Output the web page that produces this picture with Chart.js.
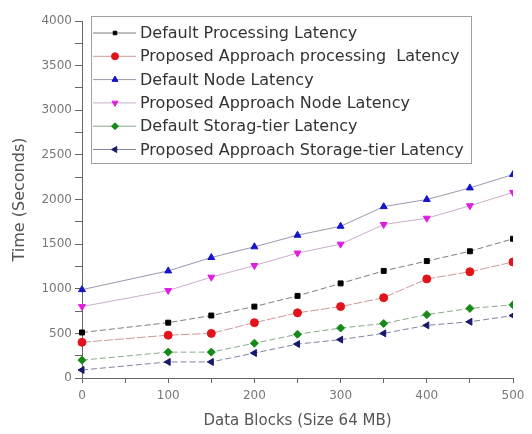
<!DOCTYPE html>
<html>
<head>
<meta charset="utf-8">
<script src="https://cdn.jsdelivr.net/npm/chart.js@4"></script>
<style>
  html, body { margin: 0; padding: 0; background: #fff; }
  #wrap { width: 532px; height: 434px; }
</style>
</head>
<body>
<div id="wrap"><canvas id="latency"></canvas></div>
<script>
// data blocks on the x axis
const blocks = [0, 100, 150, 200, 250, 300, 350, 400, 450, 500];

const defaultProcessing  = [510, 620, 700, 800, 920, 1060, 1200, 1310, 1420, 1560];
const proposedProcessing = [400, 480, 500, 620, 730, 800, 900, 1110, 1190, 1300];
const defaultNode        = [990, 1200, 1350, 1470, 1600, 1700, 1920, 2000, 2130, 2280];
const proposedNode       = [800, 980, 1130, 1260, 1400, 1500, 1720, 1790, 1930, 2080];
const defaultStorage     = [200, 290, 290, 390, 490, 560, 610, 710, 780, 820];
const proposedStorage    = [90, 180, 180, 280, 380, 430, 500, 590, 630, 700];

const seriesLabels = [
  "Default Processing Latency",
  "Proposed Approach processing  Latency",
  "Default Node Latency",
  "Proposed Approach Node Latency",
  "Default Storag-tier Latency",
  "Proposed Approach Storage-tier Latency"
];

const FONT = "'DejaVu Sans', Verdana, sans-serif";

function pairs(values){
  return values.map(function(v, i){ return {x: blocks[i], y: v}; });
}

function makeSet(label, values, color, lineColor, style, rot, dash){
  return {
    label: label,
    data: pairs(values),
    borderColor: lineColor,
    borderDash: dash || [],
    backgroundColor: color,
    pointBorderColor: color,
    pointBackgroundColor: color,
    pointStyle: style,
    pointRotation: rot || 0,
    pointRadius: style == 'rect' ? 3.5 : 4,
    borderWidth: 1,
    pointBorderWidth: 1,
    tension: 0,
    clip: {left: 6, top: 6, right: 0, bottom: 6}
  };
}

let datasets = [
  makeSet(seriesLabels[0], defaultProcessing, "#000000", "rgba(80,80,80,0.75)", 'rect', 0, [6, 3]),
  makeSet(seriesLabels[1], proposedProcessing, "#e3131b", "rgba(190,120,120,0.75)", 'circle', 0, [9, 2]),
  makeSet(seriesLabels[2], defaultNode, "#1414c8", "rgba(110,110,140,0.7)", 'triangle'),
  makeSet(seriesLabels[3], proposedNode, "#e01ee0", "rgba(180,140,180,0.7)", 'triangle', 180),
  makeSet(seriesLabels[4], defaultStorage, "#168a16", "rgba(100,140,100,0.75)", 'rectRot', 0, [6, 3]),
  makeSet(seriesLabels[5], proposedStorage, "#18186a", "rgba(90,90,130,0.75)", 'triangle', -90, [6, 3])
];

// legend box drawn inside the plot area
const boxLegend = {
  id: 'boxLegend',
  afterDraw: function(chart){
    let ctx = chart.ctx;
    let left = 91, top = 16, right = 471, bottom = 163;
    ctx.save();
    ctx.fillStyle = "#fff";
    ctx.fillRect(left, top, right - left, bottom - top);
    ctx.strokeStyle = "#a0a0a0";
    ctx.lineWidth = 1;
    ctx.strokeRect(left + 0.5, top + 0.5, right - left, bottom - top);
    ctx.font = "16px " + FONT;
    ctx.textBaseline = "middle";
    chart.data.datasets.forEach(function(ds, i){
      let y = 33 + i * 23.3;
      ctx.strokeStyle = ds.borderColor;
      ctx.setLineDash([]);
      ctx.beginPath();
      ctx.moveTo(93, y);
      ctx.lineTo(136, y);
      ctx.stroke();
      ctx.fillStyle = ds.pointBackgroundColor;
      ctx.strokeStyle = ds.pointBorderColor;
      Chart.helpers.drawPoint(ctx, {
        pointStyle: ds.pointStyle,
        rotation: ds.pointRotation,
        radius: ds.pointStyle == 'rect' ? 2.5 : 3.5,
        borderWidth: 1
      }, 115, y);
      ctx.fillStyle = "#333";
      ctx.fillText(ds.label, 140, y + 1);
    });
    ctx.restore();
  }
};

function createGraph(name){
  let ctx = document.getElementById(name);
  return new Chart(ctx, {
    type: 'line',
    data: { datasets: datasets },
    options: {
      responsive: true,
      maintainAspectRatio: false,
      animation: false,
      layout: { padding: { top: 21, right: 19, left: 0, bottom: 0 } },
      plugins: {
        legend: { display: false },
        tooltip: { enabled: false }
      },
      scales: {
        x: {
          type: 'linear',
          min: 0,
          max: 500,
          afterFit: function(s){ s.height = 56; },
          afterBuildTicks: function(s){
            let t = [];
            for (let v = 0; v <= 500; v += 50) t.push({value: v});
            s.ticks = t;
          },
          ticks: {
            color: "#777",
            font: { size: 12, family: FONT },
            padding: 6,
            maxRotation: 0,
            autoSkip: false,
            callback: function(v){ return v % 100 == 0 ? v : ''; }
          },
          grid: { drawOnChartArea: false, tickLength: 5, color: "#666" },
          border: { color: "#666", width: 1 },
          title: {
            display: true,
            text: 'Data Blocks (Size 64 MB)',
            color: "#555",
            font: { size: 15, family: FONT },
            padding: { top: 2 }
          }
        },
        y: {
          min: 0,
          max: 4000,
          afterFit: function(s){ s.width = 82; },
          afterBuildTicks: function(s){
            let t = [];
            for (let v = 0; v <= 4000; v += 250) t.push({value: v});
            s.ticks = t;
          },
          ticks: {
            color: "#777",
            font: { size: 12, family: FONT },
            padding: 3,
            autoSkip: false,
            callback: function(v){ return v % 500 == 0 ? v : ''; }
          },
          grid: { drawOnChartArea: false, tickLength: 7, color: "#666" },
          border: { color: "#666", width: 1 },
          title: {
            display: true,
            text: 'Time (Seconds)',
            color: "#555",
            font: { size: 16, family: FONT },
            padding: { top: 10 }
          }
        }
      }
    },
    plugins: [boxLegend]
  });
}

createGraph("latency");
</script>
</body>
</html>
